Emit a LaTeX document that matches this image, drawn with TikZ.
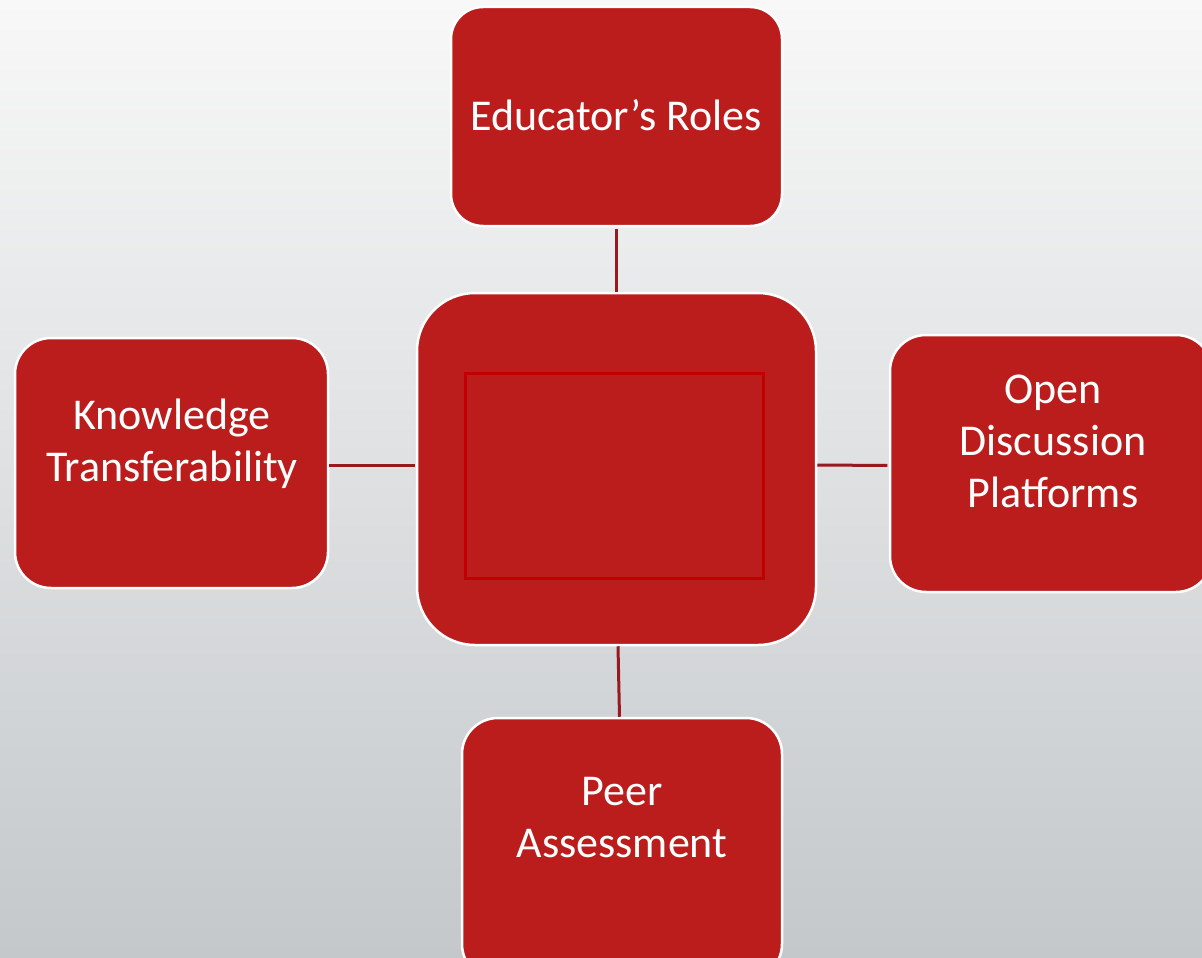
\documentclass[tikz,border=0pt]{standalone}
\usepackage{fontspec}
\setmainfont{Carlito}
\definecolor{boxred}{RGB}{187,28,28}
\definecolor{linered}{RGB}{150,26,30}
\definecolor{innerred}{RGB}{192,0,0}
\definecolor{bgtop}{RGB}{248,248,248}
\definecolor{bgmid}{RGB}{234,235,235}
\definecolor{bgbot}{RGB}{196,200,203}
\tikzset{
  card/.style={draw=white, line width=2.5pt, fill=boxred, rounded corners=#1, inner sep=0pt, anchor=center},
  card/.default=32pt,
  label/.style={text=white, font=\fontsize{44}{52}\selectfont, align=center, inner sep=0pt, anchor=center},
  link/.style={draw=linered, line width=3pt}
}
\begin{document}
\begin{tikzpicture}[x=1pt,y=-1pt]
\useasboundingbox (0,0) rectangle (1202,958);
\shade[top color=bgtop, middle color=bgmid, bottom color=bgbot] (0,0) rectangle (1202,958);
\clip (0,0) rectangle (1202,958);
% boxes
\node[card, minimum width=331pt, minimum height=219pt] (edu) at (616.5,116.5) {};
\node[card=58pt, minimum width=399pt, minimum height=352pt] (hub) at (616.5,469) {};
\node[draw=innerred, line width=3pt, minimum width=298pt, minimum height=205pt, inner sep=0pt] (inner) at (614,475.5) {};
\node[card=36pt, minimum width=313pt, minimum height=250pt] (know) at (171.5,463) {};
\node[card=36pt, minimum width=322pt, minimum height=257pt] (open) at (1051,463.5) {};
\node[card=36pt, minimum width=320pt, minimum height=262pt] (peer) at (622,849) {};
% labels
\node[label] (edut) at (616,115) {Educator’s Roles};
\node[label] (knowt) at (172,444) {Knowledge\\Transferability};
\node[label] (opent) at (1053,441) {Open\\Discussion\\Platforms};
\node[label] (peert) at (622,818) {Peer\\Assessment};
% connectors
\draw[link, shorten <=2pt] (edu.south) -- (hub.north);
\draw[link] ([xshift=1.5pt]hub.south) -- ([xshift=-2.5pt]peer.north);
\draw[link, shorten >=1pt] ([yshift=-2pt]know.east) -- ([yshift=4pt]hub.west);
\draw[link, shorten >=1.5pt] ([yshift=4pt]hub.east) -- ([yshift=-2pt]open.west);
\end{tikzpicture}
\end{document}
